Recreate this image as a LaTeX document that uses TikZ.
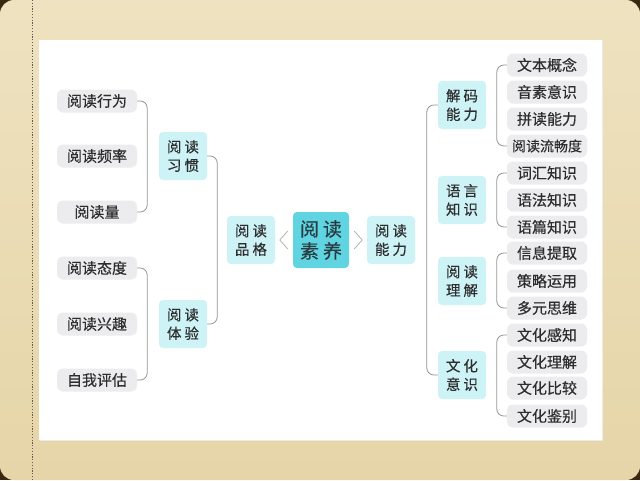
\documentclass[tikz,border=0pt]{standalone}
\usepackage{fontspec}
\setmainfont{Noto Sans CJK SC}[FakeBold=0.35]
\usetikzlibrary{calc}
\definecolor{darkbg}{RGB}{55,40,15}
\definecolor{beigeTop}{RGB}{238,226,192}
\definecolor{beigeBot}{RGB}{230,213,168}
\definecolor{dotcol}{RGB}{100,92,80}
\definecolor{leafgray}{RGB}{236,236,239}
\definecolor{catcyan}{RGB}{206,243,247}
\definecolor{hubcyan}{RGB}{96,212,224}
\definecolor{txt}{RGB}{45,45,45}
\definecolor{hubtxt}{RGB}{40,60,66}
\definecolor{linegray}{RGB}{150,150,150}
\definecolor{chevgray}{RGB}{170,170,170}
\begin{document}
\begin{tikzpicture}[x=1pt,y=-1pt,
  leaf/.style={fill=leafgray, rounded corners=6pt, minimum width=80pt, minimum height=23pt, inner sep=0pt, font=\fontsize{15}{16}\selectfont, text=txt},
  cat/.style={fill=catcyan, rounded corners=4pt, minimum width=48pt, minimum height=48pt, inner sep=0pt, align=center, font=\fontsize{14.5}{18.5}\selectfont, text=txt},
  hub/.style={fill=hubcyan, rounded corners=4pt, minimum width=56pt, minimum height=56pt, inner sep=0pt, align=center, font=\fontsize{19}{22}\selectfont, text=hubtxt},
  brace/.style={draw=linegray, line width=0.8pt, rounded corners=7pt},
  chev/.style={draw=chevgray, line width=0.7pt}]
\useasboundingbox (0,0) rectangle (640,480);
% background
\fill[darkbg] (0,0) rectangle (640,480);
\shade[top color=beigeTop, bottom color=beigeBot, rounded corners=14pt] (0,0) rectangle (640,480);
\draw[dotcol, line width=1pt, dash pattern=on 1.2pt off 1.6pt] (32,0) -- (32,480);
\fill[black!8] (39.5,40.5) rectangle (602.5,441);
\fill[white] (39,40) rectangle (602,440);
% left leaves
\node[leaf] (a1) at (97,101) {阅读行为};
\node[leaf] (a2) at (97,156) {阅读频率};
\node[leaf] (a3) at (97,212) {阅读量};
\node[leaf] (a4) at (97,268) {阅读态度};
\node[leaf] (a5) at (97,324) {阅读兴趣};
\node[leaf] (a6) at (97,380) {自我评估};
% categories
\node[cat] (h1) at (183,156) {阅\hspace{3pt}读\\习\hspace{3pt}惯};
\node[cat] (h2) at (183,324) {阅\hspace{3pt}读\\体\hspace{3pt}验};
\node[cat] (pg) at (251,240) {阅\hspace{3pt}读\\品\hspace{3pt}格};
\node[hub] (hub) at (321,240) {阅\hspace{4pt}读\\素\hspace{4pt}养};
\node[cat] (nl) at (391,240) {阅\hspace{3pt}读\\能\hspace{3pt}力};
\node[cat] (c1) at (462,105) {解\hspace{3pt}码\\能\hspace{3pt}力};
\node[cat] (c2) at (462,200) {语\hspace{3pt}言\\知\hspace{3pt}识};
\node[cat] (c3) at (462,281) {阅\hspace{3pt}读\\理\hspace{3pt}解};
\node[cat] (c4) at (462,375) {文\hspace{3pt}化\\意\hspace{3pt}识};
% right leaves
\node[leaf] (r1) at (547,65) {文本概念};
\node[leaf] (r2) at (547,92) {音素意识};
\node[leaf] (r3) at (547,119) {拼读能力};
\node[leaf, font=\fontsize{14}{15}\selectfont] (r4) at (547,146) {阅读流畅度};
\node[leaf] (r5) at (547,173) {词汇知识};
\node[leaf] (r6) at (547,200) {语法知识};
\node[leaf] (r7) at (547,227) {语篇知识};
\node[leaf] (r8) at (547,253) {信息提取};
\node[leaf] (r9) at (547,281) {策略运用};
\node[leaf] (r10) at (547,308) {多元思维};
\node[leaf] (r11) at (547,335) {文化感知};
\node[leaf] (r12) at (547,362) {文化理解};
\node[leaf] (r13) at (547,388) {文化比较};
\node[leaf] (r14) at (547,416) {文化鉴别};
% braces
\draw[brace] (a1.east) -- ++(10,0) |- (a3.east);
\draw[brace] (a4.east) -- ++(10,0) |- (a6.east);
\draw[brace] (h1.east) -- ++(10,0) |- (h2.east);
\draw[brace] (c1.west) -- ++(-11,0) |- (c4.west);
\draw[brace] (r1.west) -- ++(-10,0) |- (r4.west);
\draw[brace] (r5.west) -- ++(-10,0) |- (r7.west);
\draw[brace] (r8.west) -- ++(-10,0) |- (r10.west);
\draw[brace] (r11.west) -- ++(-10,0) |- (r14.west);
% chevrons
\draw[chev] ($(hub.west)+(-5,-9)$) -- ($(hub.west)+(-13,0)$) -- ($(hub.west)+(-5,9)$);
\draw[chev] ($(hub.east)+(5,-9)$) -- ($(hub.east)+(13,0)$) -- ($(hub.east)+(5,9)$);
\end{tikzpicture}
\end{document}
